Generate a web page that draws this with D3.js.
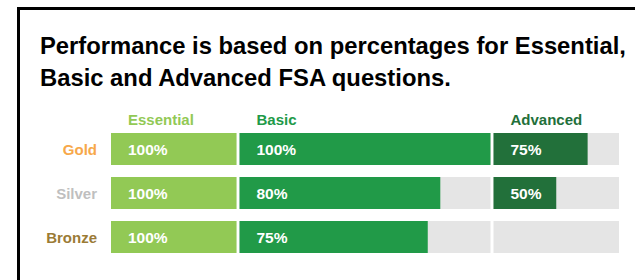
<!DOCTYPE html>
<html>
<head>
<meta charset="utf-8">
<script src="https://cdn.jsdelivr.net/npm/d3@7"></script>
<style>
  body { margin: 0; background: #fff; }
  svg text { font-family: "Liberation Sans", Arial, Helvetica, sans-serif; font-weight: bold; }
</style>
</head>
<body>
<div class="chart"></div>
<script>
// chart data
var titleLines = ["Performance is based on percentages for Essential,", "Basic and Advanced FSA questions."];
var tiers = ["Gold", "Silver", "Bronze"];
var columns = ["Essential", "Basic", "Advanced"];
var essential = [100, 100, 100];
var basic = [100, 80, 75];
var advanced = [75, 50, null];

var svgWidth = 635;
var svgHeight = 280;

var svg = d3.select(".chart")
  .append("svg")
  .attr("width", svgWidth)
  .attr("height", svgHeight);

// frame (runs off the right and bottom edges)
svg.append("rect")
  .attr("x", 18.5)
  .attr("y", 8.5)
  .attr("width", 700)
  .attr("height", 400)
  .attr("fill", "none")
  .attr("stroke", "#000")
  .attr("stroke-width", 3);

// title
svg.selectAll(".title")
  .data(titleLines)
  .enter()
  .append("text")
  .attr("class", "title")
  .attr("x", 40)
  .attr("y", function(d, i) { return 54 + i * 32; })
  .style("font-size", "23.8px")
  .attr("fill", "#000")
  .text(function(d) { return d; });

var colColors = { Essential: "#92c955", Basic: "#219a48", Advanced: "#22703a" };
var tierColors = { Gold: "#f7a84a", Silver: "#bfbfbf", Bronze: "#9b7b36" };
var colValues = { Essential: essential, Basic: basic, Advanced: advanced };

// column geometry: Basic is twice as wide as the other two
var left = 111, right = 619, gap = 3;
var unit = (right - left - 2 * gap) / 4;
var colSpan = {
  Essential: [left, left + unit],
  Basic: [left + unit + gap, left + 3 * unit + gap],
  Advanced: [left + 3 * unit + 2 * gap, right]
};

var yScale = d3.scaleBand()
  .domain(tiers)
  .range([133, 253])
  .paddingInner(12 / 44);

// row labels
svg.selectAll(".tier")
  .data(tiers)
  .enter()
  .append("text")
  .attr("class", "tier")
  .attr("x", 97)
  .attr("y", function(d) { return yScale(d) + yScale.bandwidth() / 2 + 5.5; })
  .attr("text-anchor", "end")
  .style("font-size", "15px")
  .attr("fill", function(d) { return tierColors[d]; })
  .text(function(d) { return d; });

columns.forEach(function(col) {
  var x = d3.scaleLinear().domain([0, 100]).range(colSpan[col]);
  var vals = colValues[col];
  var g = svg.append("g");

  // header
  g.append("text")
    .attr("x", x(0) + 17)
    .attr("y", 124.5)
    .style("font-size", "15px")
    .attr("fill", colColors[col])
    .text(col);

  // grey track
  g.selectAll(".track")
    .data(tiers)
    .enter()
    .append("rect")
    .attr("x", x(0))
    .attr("y", function(d) { return yScale(d); })
    .attr("width", x(100) - x(0))
    .attr("height", yScale.bandwidth())
    .attr("fill", "#e5e5e5");

  var rows = tiers.map(function(t, i) { return { tier: t, value: vals[i] }; })
    .filter(function(d) { return d.value != null; });

  g.selectAll(".bar")
    .data(rows)
    .enter()
    .append("rect")
    .attr("x", x(0))
    .attr("y", function(d) { return yScale(d.tier); })
    .attr("width", function(d) { return x(d.value) - x(0); })
    .attr("height", yScale.bandwidth())
    .attr("fill", colColors[col]);

  g.selectAll(".val")
    .data(rows)
    .enter()
    .append("text")
    .attr("x", x(0) + 17)
    .attr("y", function(d) { return yScale(d.tier) + yScale.bandwidth() / 2 + 5.5; })
    .style("font-size", "15.5px")
    .attr("fill", "#fff")
    .text(function(d) { return d.value + "%"; });
});
</script>
</body>
</html>
